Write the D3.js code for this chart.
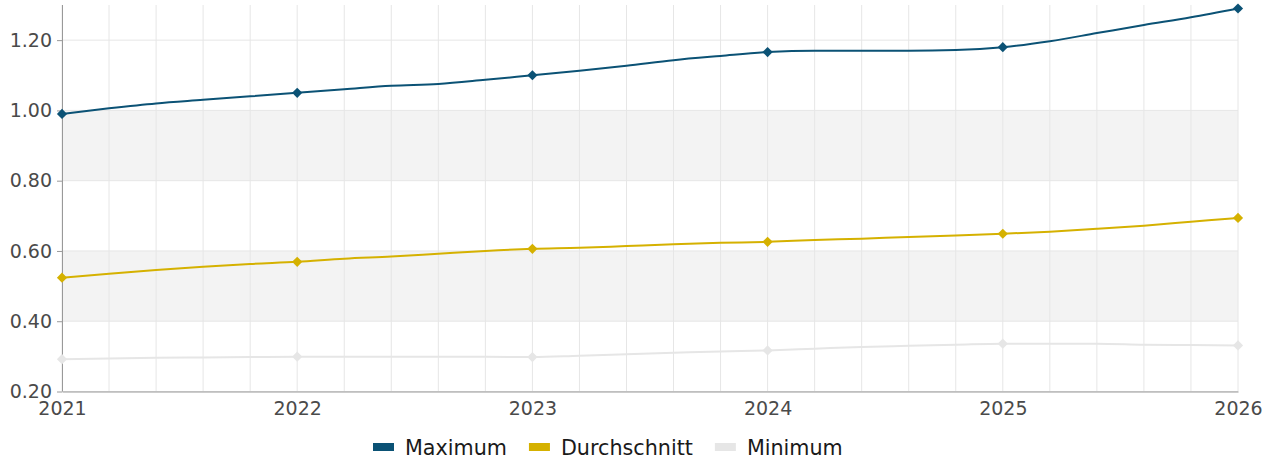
<!DOCTYPE html>
<html>
<head>
<meta charset="utf-8">
<script src="https://cdn.jsdelivr.net/npm/d3@7"></script>
<style>
  body { margin: 0; background: #fff; }
  text { font-family: "DejaVu Sans", sans-serif; }
</style>
</head>
<body>
<div class="container"></div>
<script>
var chartWidth = 1271,
    chartHeight = 459;

// time points, every fifth of a year
var periods = [2021, 2021.2, 2021.4, 2021.6, 2021.8,
               2022, 2022.2, 2022.4, 2022.6, 2022.8,
               2023, 2023.2, 2023.4, 2023.6, 2023.8,
               2024, 2024.2, 2024.4, 2024.6, 2024.8,
               2025, 2025.2, 2025.4, 2025.6, 2025.8,
               2026];

var maximum = [0.99, 1.006, 1.02, 1.03, 1.04,
               1.05, 1.06, 1.07, 1.075, 1.087,
               1.10, 1.113, 1.127, 1.143, 1.155,
               1.166, 1.17, 1.17, 1.17, 1.172,
               1.18, 1.197, 1.22, 1.243, 1.265,
               1.29];

var durchschnitt = [0.524, 0.535, 0.546, 0.555, 0.563,
                    0.569, 0.578, 0.584, 0.592, 0.600,
                    0.606, 0.609, 0.614, 0.619, 0.623,
                    0.626, 0.631, 0.635, 0.640, 0.644,
                    0.649, 0.655, 0.663, 0.672, 0.683,
                    0.694];

var minimum = [0.292, 0.294, 0.296, 0.297, 0.298,
               0.299, 0.299, 0.299, 0.299, 0.299,
               0.298, 0.302, 0.306, 0.310, 0.314,
               0.317, 0.322, 0.327, 0.330, 0.333,
               0.336, 0.336, 0.336, 0.333, 0.332,
               0.331];

var yearTicks = [2021, 2022, 2023, 2024, 2025, 2026];
var yTicks = [0.2, 0.4, 0.6, 0.8, 1.0, 1.2];
var bands = [[0.4, 0.6], [0.8, 1.0]];

var series = [
  { name: 'Maximum',      values: maximum,      colour: '#0b5275' },
  { name: 'Durchschnitt', values: durchschnitt, colour: '#d5b100' },
  { name: 'Minimum',      values: minimum,      colour: '#e6e6e6' }
];

var margin = { left: 62, right: 33, top: 5, bottom: 67.5 };

var x = d3.scaleLinear()
    .domain([2021, 2026])
    .range([margin.left, chartWidth - margin.right]);

var y = d3.scaleLinear()
    .domain([0.2, 1.3])
    .range([chartHeight - margin.bottom, margin.top]);

var svg = d3.select('.container')
  .append('svg')
    .attr('xmlns', 'http://www.w3.org/2000/svg')
    .attr('width', chartWidth)
    .attr('height', chartHeight);

// shaded bands
svg.append('g').selectAll('rect')
  .data(bands)
  .enter().append('rect')
    .attr('x', x(2021))
    .attr('width', x(2026) - x(2021))
    .attr('y', function(d) { return y(d[1]); })
    .attr('height', function(d) { return y(d[0]) - y(d[1]); })
    .attr('fill', '#f3f3f3');

// vertical grid, one line per period
svg.append('g').selectAll('line')
  .data(periods)
  .enter().append('line')
    .attr('x1', function(d) { return x(d); })
    .attr('x2', function(d) { return x(d); })
    .attr('y1', y.range()[0])
    .attr('y2', y.range()[1])
    .attr('stroke', '#e6e6e6')
    .attr('stroke-width', 1);

// horizontal grid
svg.append('g').selectAll('line')
  .data(yTicks)
  .enter().append('line')
    .attr('x1', x.range()[0])
    .attr('x2', x.range()[1])
    .attr('y1', function(d) { return y(d); })
    .attr('y2', function(d) { return y(d); })
    .attr('stroke', '#e6e6e6')
    .attr('stroke-width', 1);

// y axis
var yAxis = svg.append('g')
    .attr('transform', 'translate(' + margin.left + ',0)')
    .call(d3.axisLeft(y).tickValues(yTicks).tickFormat(d3.format('.2f'))
            .tickSize(5).tickPadding(5).tickSizeOuter(0));
yAxis.select('.domain').attr('stroke', '#999').attr('d', 'M0.5,' + y.range()[0] + 'V' + y.range()[1]);
yAxis.selectAll('.tick line').attr('stroke', '#999');
yAxis.selectAll('text').attr('fill', '#4a4a4a').style('font-size', '19px');

// x axis
var xAxis = svg.append('g')
    .attr('transform', 'translate(0,' + y.range()[0] + ')')
    .call(d3.axisBottom(x).tickValues(yearTicks).tickFormat(d3.format('d'))
            .tickSize(0).tickPadding(10).tickSizeOuter(0));
xAxis.select('.domain').attr('stroke', '#999');
xAxis.selectAll('text').attr('fill', '#4a4a4a').style('font-size', '19px');

// lines and markers
var line = d3.line()
    .x(function(d, i) { return x(periods[i]); })
    .y(function(d) { return y(d); })
    .curve(d3.curveMonotoneX);

var diamond = d3.symbol().type(d3.symbolSquare).size(52);

series.slice().reverse().forEach(function(s) {
  svg.append('path')
    .attr('d', line(s.values))
    .attr('fill', 'none')
    .attr('stroke', s.colour)
    .attr('stroke-width', 2);

  svg.append('g').selectAll('path')
    .data(yearTicks)
    .enter().append('path')
      .attr('d', diamond)
      .attr('transform', function(yr) {
        var i = periods.indexOf(yr);
        return 'translate(' + x(yr) + ',' + y(s.values[i]) + ') rotate(45)';
      })
      .attr('fill', s.colour);
});

// legend
var legend = svg.append('g').attr('transform', 'translate(0,447)');
var lx = 373;
series.forEach(function(s) {
  var item = legend.append('g').attr('transform', 'translate(' + lx + ',0)');
  item.append('rect')
    .attr('x', 0).attr('y', -4).attr('width', 21).attr('height', 8)
    .attr('fill', s.colour);
  var t = item.append('text')
    .attr('x', 32).attr('y', 7.5)
    .attr('fill', '#1a1a1a')
    .style('font-size', '20.7px')
    .text(s.name);
  lx += 32 + t.node().getComputedTextLength() + 22;
});
</script>
</body>
</html>
